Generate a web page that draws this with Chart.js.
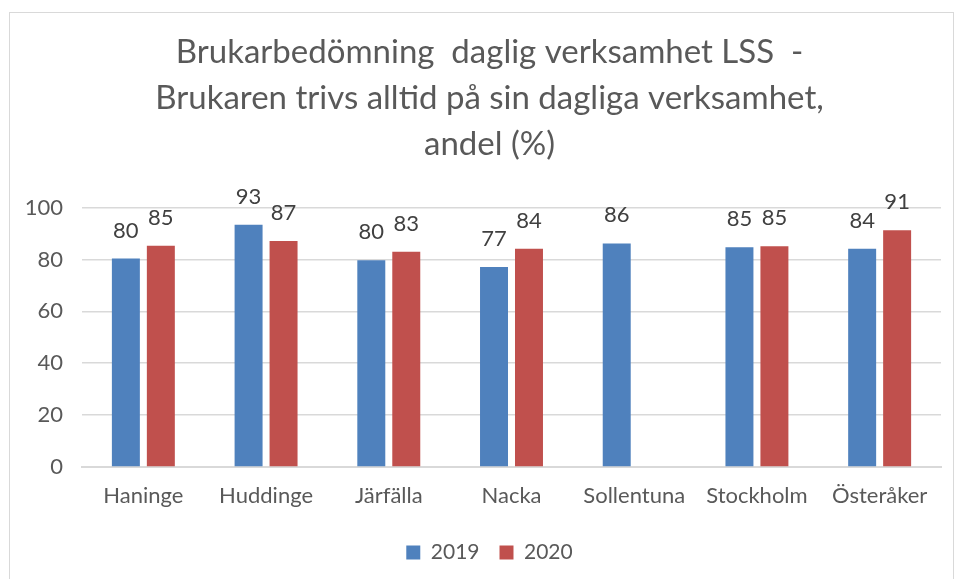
<!DOCTYPE html>
<html lang="sv">
<head>
<meta charset="UTF-8">
<title>Brukarbedömning daglig verksamhet LSS</title>
<script src="https://cdn.jsdelivr.net/npm/chart.js"></script>
<style>
    body { margin: 0; background: #fff; }
    #wrap {
        position: absolute;
        left: 9px; top: 12px;
        width: 945px; height: 580px;
        border: 1px solid #d9d9d9;
        box-sizing: border-box;
    }
    #c { position: absolute; left: 0; top: 0; }
</style>
</head>
<body>
<div id="wrap"><canvas id="c" width="943" height="578"></canvas></div>
<script>
    const kommuner = ['Haninge', 'Huddinge', 'Järfälla', 'Nacka', 'Sollentuna', 'Stockholm', 'Österåker'];
    const v2019 = [80.4, 93.4, 79.7, 77.1, 86.2, 84.7, 84.1];
    const v2020 = [85.3, 87.1, 83.0, 84.1, null, 85.1, 91.3];
    const yTicks = [0, 20, 40, 60, 80, 100];

    const FONT = 'Lato, "Open Sans", sans-serif';

    // values above the bars, as Excel does
    const barLabels = {
        id: 'barLabels',
        afterDatasetsDraw(chart) {
            const ctx = chart.ctx;
            ctx.save();
            ctx.font = '22px ' + FONT;
            ctx.fillStyle = '#404040';
            ctx.textAlign = 'center';
            ctx.textBaseline = 'bottom';
            chart.data.datasets.forEach((ds, i) => {
                chart.getDatasetMeta(i).data.forEach((bar, j) => {
                    const v = ds.data[j];
                    if (v === null) return;
                    ctx.fillText(Math.round(v), bar.x, bar.y - 17);
                });
            });
            ctx.restore();
        }
    };

    // Excel centres title/legend a bit further right than chart.js does
    const centerShift = {
        id: 'centerShift',
        afterLayout(chart) {
            [chart.titleBlock, chart.legend].forEach(b => {
                if (!b) return;
                b.left += 12;
                b.right += 12;
            });
        }
    };

    new Chart(document.getElementById('c'), {
        type: 'bar',
        data: {
            labels: kommuner,
            datasets: [
                { label: '2019', data: v2019, backgroundColor: '#4f81bd' },
                { label: '2020', data: v2020, backgroundColor: '#c0504d' }
            ]
        },
        options: {
            responsive: false,
            animation: false,
            categoryPercentage: 0.57,
            barPercentage: 0.8,
            layout: { padding: { left: 4, right: 12, top: 8, bottom: 18 } },
            scales: {
                x: {
                    grid: { display: false },
                    border: { display: true, color: '#d9d9d9', width: 2 },
                    ticks: { color: '#595959', font: { family: FONT, size: 22 }, padding: 8 },
                    afterFit: (s) => { s.height = 55; }
                },
                y: {
                    min: 0, max: 100,
                    afterBuildTicks: (axis) => { axis.ticks = yTicks.map(v => ({ value: v })); },
                    grid: { color: '#d9d9d9', lineWidth: 1.5, drawTicks: false },
                    border: { display: false },
                    ticks: { color: '#595959', font: { family: FONT, size: 22 }, padding: 19 },
                    afterFit: (s) => { s.width = 68; }
                }
            },
            plugins: {
                title: {
                    display: true,
                    text: ['Brukarbedömning  daglig verksamhet LSS  -', 'Brukaren trivs alltid på sin dagliga verksamhet,', 'andel (%)'],
                    color: '#595959',
                    font: { family: FONT, size: 33, weight: 'normal', lineHeight: 1.4 },
                    padding: { top: 8, bottom: 40 }
                },
                legend: {
                    position: 'bottom',
                    labels: {
                        color: '#595959',
                        font: { family: FONT, size: 21 },
                        boxWidth: 14, boxHeight: 14,
                        padding: 20
                    }
                },
                tooltip: { enabled: false }
            }
        },
        plugins: [barLabels, centerShift]
    });
</script>
</body>
</html>
